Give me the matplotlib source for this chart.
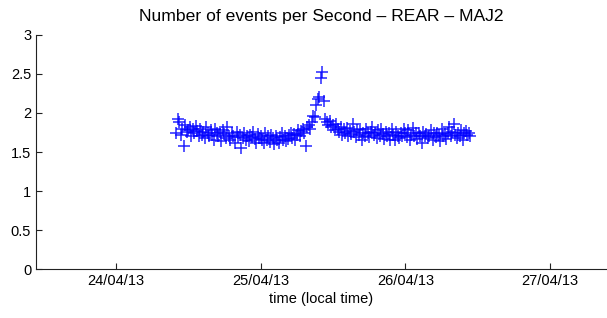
import numpy as np
import pandas as pd
import matplotlib
matplotlib.use("Agg")
import matplotlib.pyplot as plt
import matplotlib.dates as mdates

# datos: una medida cada 15 min desde el 24/04/13 10:00
t_start = "2013-04-24 10:00"
t_step = "15min"
rate = [
    # 24/04
    1.75, 1.92, 1.88, 1.72, 1.80, 1.58, 1.85, 1.76, 1.78, 1.82, 1.70, 1.80,
    1.74, 1.83, 1.77, 1.70, 1.80, 1.72, 1.76, 1.68, 1.82, 1.74, 1.70, 1.78,
    1.72, 1.66, 1.80, 1.74, 1.70, 1.76, 1.64, 1.78, 1.73, 1.68, 1.82, 1.71,
    1.66, 1.74, 1.70, 1.62, 1.76, 1.69, 1.72, 1.55, 1.68, 1.74, 1.66, 1.71,
    1.64, 1.72, 1.69, 1.76, 1.67, 1.62, 1.73, 1.68,
    # 25/04
    1.70, 1.65, 1.61, 1.74, 1.66, 1.70, 1.63, 1.72, 1.68, 1.60, 1.71, 1.65,
    1.62, 1.69, 1.74, 1.66, 1.70, 1.64, 1.67, 1.72, 1.75, 1.68, 1.73, 1.66,
    1.72, 1.78, 1.70, 1.77, 1.80, 1.74, 1.58, 1.82, 1.84, 1.79, 1.88, 1.96,
    1.95, 2.10, 2.18, 2.20, 2.45, 2.52, 2.15, 1.92, 1.88, 1.85, 1.90, 1.82,
    1.84, 1.78, 1.86, 1.80, 1.76, 1.82, 1.72, 1.79, 1.74, 1.81, 1.70, 1.77,
    1.73, 1.86, 1.76, 1.69, 1.78, 1.72, 1.80, 1.66, 1.74, 1.70, 1.79, 1.75,
    1.69, 1.76, 1.82, 1.72, 1.75, 1.68, 1.78, 1.71, 1.80, 1.73, 1.67, 1.76,
    1.70, 1.74, 1.66, 1.79, 1.72, 1.65, 1.76, 1.70, 1.68, 1.75, 1.71, 1.80,
    # 26/04
    1.74, 1.69, 1.78, 1.66, 1.72, 1.81, 1.70, 1.75, 1.67, 1.74, 1.71, 1.62,
    1.76, 1.70, 1.73, 1.68, 1.71, 1.78, 1.66, 1.74, 1.69, 1.75, 1.72, 1.64,
    1.80, 1.70, 1.73, 1.67, 1.74, 1.82, 1.70, 1.76, 1.86, 1.72, 1.68, 1.75,
    1.71, 1.78, 1.66, 1.74, 1.77, 1.72, 1.75, 1.70,
]
x_min = "2013-04-23 10:45"
x_max = "2013-04-27 09:26"
x_ticks = ["2013-04-24", "2013-04-25", "2013-04-26", "2013-04-27"]
y_ticks = [0, 0.5, 1, 1.5, 2, 2.5, 3]
y_ticklabels = ["0", "0.5", "1", "1.5", "2", "2.5", "3"]

t = pd.date_range(t_start, periods=len(rate), freq=t_step)

plt.rcParams["font.family"] = ["Liberation Sans", "DejaVu Sans"]
plt.rcParams["font.size"] = 10.5

fig = plt.figure(figsize=(6.07, 3.18), dpi=100)
ax = fig.add_axes([0.0593, 0.154, 0.9407, 0.736])

ax.plot(t, rate, linestyle="none", marker="+", color="blue",
        markersize=9, markeredgewidth=1.1, alpha=0.85)

ax.set_xlim(pd.Timestamp(x_min), pd.Timestamp(x_max))
ax.set_ylim(0, 3)
ax.set_xticks([pd.Timestamp(d) for d in x_ticks])
ax.xaxis.set_major_formatter(mdates.DateFormatter("%d/%m/%y"))
ax.set_yticks(y_ticks)
ax.set_yticklabels(y_ticklabels)

ax.spines["top"].set_visible(False)
ax.spines["right"].set_visible(False)
for s in ["left", "bottom"]:
    ax.spines[s].set_linewidth(0.8)
    ax.spines[s].set_color("#222222")
ax.tick_params(direction="in", length=4, width=0.8, colors="#222222",
               labelcolor="black")

ax.set_title("Number of events per Second \u2013 REAR \u2013 MAJ2", pad=10)
ax.set_xlabel("time (local time)", labelpad=3)

plt.savefig("out.png", dpi=100)
